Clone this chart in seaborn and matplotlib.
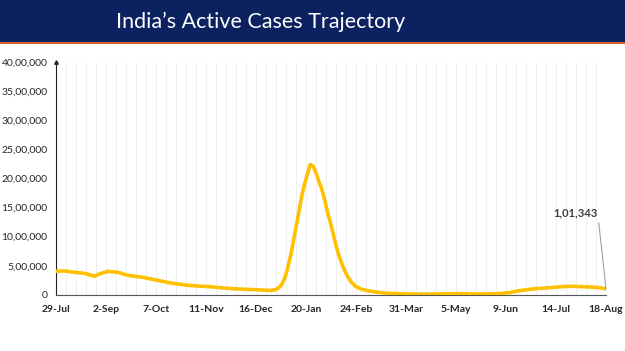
import matplotlib.pyplot as plt
import matplotlib.patches as mpatches
import seaborn as sns
import pandas as pd

# values (active cases)
dates = [
    "2021-07-29", "2021-08-02", "2021-08-05", "2021-08-08", "2021-08-12", "2021-08-16",
    "2021-08-19", "2021-08-22", "2021-08-25", "2021-08-28", "2021-08-31", "2021-09-03",
    "2021-09-07", "2021-09-11", "2021-09-15", "2021-09-19", "2021-09-23", "2021-09-27",
    "2021-10-01", "2021-10-05", "2021-10-09", "2021-10-13", "2021-10-17", "2021-10-21",
    "2021-10-25", "2021-10-29", "2021-11-02", "2021-11-06", "2021-11-10", "2021-11-14",
    "2021-11-18", "2021-11-22", "2021-11-26", "2021-11-30", "2021-12-04", "2021-12-08",
    "2021-12-12", "2021-12-16", "2021-12-20", "2021-12-24", "2021-12-27", "2021-12-30",
    "2022-01-01", "2022-01-03", "2022-01-05", "2022-01-07", "2022-01-09", "2022-01-11",
    "2022-01-13", "2022-01-15", "2022-01-17", "2022-01-19", "2022-01-21", "2022-01-23",
    "2022-01-25", "2022-01-27", "2022-01-29", "2022-01-31", "2022-02-02", "2022-02-04",
    "2022-02-06", "2022-02-08", "2022-02-10", "2022-02-12", "2022-02-14", "2022-02-16",
    "2022-02-18", "2022-02-21", "2022-02-24", "2022-02-28", "2022-03-05", "2022-03-10",
    "2022-03-16", "2022-03-22", "2022-03-31", "2022-04-10", "2022-04-20", "2022-04-30",
    "2022-05-10", "2022-05-20", "2022-05-31", "2022-06-06", "2022-06-12", "2022-06-18",
    "2022-06-24", "2022-06-30", "2022-07-06", "2022-07-12", "2022-07-18", "2022-07-24",
    "2022-07-30", "2022-08-05", "2022-08-10", "2022-08-14", "2022-08-18",
]
active = [
    404000, 410000, 408000, 395000, 385000, 375000,
    365000, 340000, 322000, 355000, 380000, 403000,
    395000, 385000, 350000, 330000, 315000, 305000,
    285000, 265000, 245000, 225000, 205000, 190000,
    178000, 165000, 158000, 150000, 145000, 140000,
    130000, 120000, 112000, 105000, 100000, 96000,
    92000, 88000, 82000, 78000, 76000, 92000,
    125000, 175000, 280000, 440000, 650000, 900000,
    1160000, 1420000, 1700000, 1900000, 2080000, 2240000,
    2210000, 2100000, 1950000, 1820000, 1640000, 1430000,
    1250000, 1050000, 850000, 680000, 540000, 420000,
    320000, 210000, 140000, 95000, 68000, 47000,
    32000, 24000, 15000, 11500, 13000, 19000,
    20000, 15000, 17000, 25000, 40000, 70000,
    90000, 108000, 115000, 128000, 140000, 148000,
    142000, 138000, 130000, 122000, 101343,
]
tick_labels = ["29-Jul", "2-Sep", "7-Oct", "11-Nov", "16-Dec", "20-Jan",
               "24-Feb", "31-Mar", "5-May", "9-Jun", "14-Jul", "18-Aug"]
y_ticks = [0, 500000, 1000000, 1500000, 2000000, 2500000, 3000000, 3500000, 4000000]
y_labels = ["0", "5,00,000", "10,00,000", "15,00,000", "20,00,000",
            "25,00,000", "30,00,000", "35,00,000", "40,00,000"]
last_label = "1,01,343"

df = pd.DataFrame({"date": pd.to_datetime(dates), "active": active})

sns.set_style("white")
plt.rcParams["font.family"] = ["Lato", "DejaVu Sans"]

fig = plt.figure(figsize=(6.25, 3.51), dpi=100)

# title band with thin orange rule under it
fig.patches.append(mpatches.Rectangle((0, 0.878), 1, 0.122, transform=fig.transFigure,
                                      facecolor="#0c215f", edgecolor="none", zorder=0))
fig.patches.append(mpatches.Rectangle((0, 0.874), 1, 0.005, transform=fig.transFigure,
                                      facecolor="#d8642c", edgecolor="none", zorder=0))
fig.text(0.417, 0.938, "India\u2019s Active Cases Trajectory", color="white",
         fontsize=15.5, ha="center", va="center")

ax = fig.add_axes([0.0896, 0.16, 0.88, 0.663])

start = df["date"].iloc[0]
end = df["date"].iloc[-1]

# weekly light vertical gridlines
for d in pd.date_range(start, end, freq="7D"):
    ax.axvline(d, color="#ebebeb", lw=0.6, zorder=0)

sns.lineplot(data=df, x="date", y="active", ax=ax, color="#ffc000", lw=2.6, zorder=3)

ax.set_xlim(start, end)
ax.set_ylim(0, 4000000)
ticks = pd.date_range(start, periods=len(tick_labels), freq="35D")
ax.set_xticks(ticks)
ax.set_xticklabels(tick_labels, fontsize=7.5, fontweight="bold")
ax.set_yticks(y_ticks)
ax.set_yticklabels(y_labels, fontsize=7.5)
ax.set_xlabel("")
ax.set_ylabel("")
ax.tick_params(axis="x", length=3, width=0.8, color="#404040", pad=4)
ax.tick_params(axis="y", length=0, pad=6)

for s in ["top", "right"]:
    ax.spines[s].set_visible(False)
ax.spines["left"].set_color("#222222")
ax.spines["left"].set_linewidth(0.8)
ax.spines["bottom"].set_color("#555555")
ax.spines["bottom"].set_linewidth(0.8)
ax.plot([start], [4000000], marker="^", color="#222222", ms=2.5, clip_on=False, zorder=4)

ax.annotate(last_label, xy=(end, active[-1]), xytext=(-6, 55), textcoords="offset points",
            ha="right", va="center", fontsize=8, fontweight="bold", color="#404040",
            arrowprops=dict(arrowstyle="-", color="#a0a0a0", lw=0.8,
                            shrinkA=1, shrinkB=0, relpos=(1.0, 0.5)))

fig.savefig("out.png", dpi=100)
